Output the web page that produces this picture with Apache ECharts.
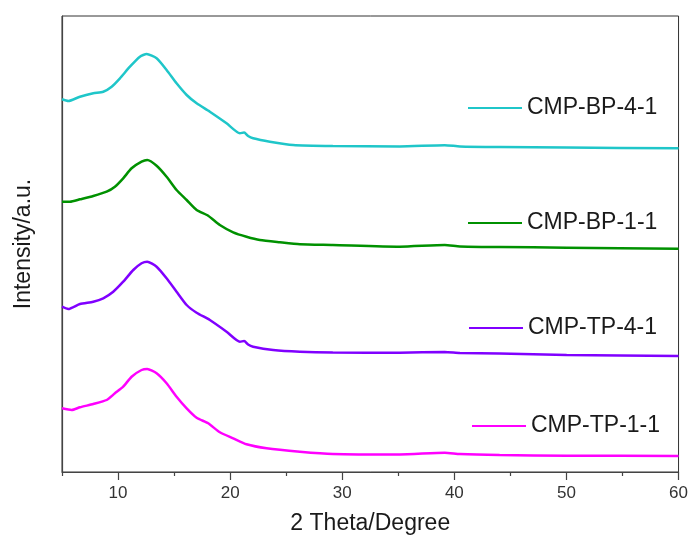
<!DOCTYPE html>
<html>
<head>
<meta charset="utf-8">
<script src="https://cdn.jsdelivr.net/npm/echarts@6/dist/echarts.min.js"></script>
<style>html,body{margin:0;padding:0;background:#fff}#c{width:691px;height:541px}</style>
</head>
<body>
<div id="c"></div>
<script>
var seriesNames = ['CMP-BP-4-1', 'CMP-BP-1-1', 'CMP-TP-4-1', 'CMP-TP-1-1'];
var seriesColors = ['#1fc6c9', '#009100', '#8000ff', '#ff00ff'];
var majorTicks = [10, 20, 30, 40, 50, 60];
var minorTicks = [5, 15, 25, 35, 45, 55];

var bp41 = [[5,372.7],[5.56,371],[6.6,375.3],[7.79,378.7],[8.68,380.3],[9.43,385.3],[10.17,393.7],[11.06,405.3],[11.95,415.3],[12.55,418],[13.44,413.7],[14.33,402],[15.22,388.7],[16.12,377],[17.01,368.7],[18.19,360.3],[19.68,348.7],[20.87,338.7],[21.25,339.5],[21.6,336],[22.05,333.7],[23.54,330.3],[25.62,327],[29.16,326],[35.13,325.5],[39.14,326.8],[40.5,325.6],[44.04,325],[50.02,324.5],[60,323.7]];
var bp11 = [[5,270.3],[5.71,270.3],[6.6,272.7],[7.79,276],[8.98,280.3],[9.72,285.3],[10.46,293.7],[11.21,303.7],[12.1,310.3],[12.6,312],[13.44,306.3],[14.33,295.3],[15.22,282],[16.12,272],[17.01,262],[18.04,256.3],[19.08,247],[20.27,239.7],[21.46,235.3],[22.65,232],[24.43,229.7],[26.22,227.7],[29.16,227],[35.13,225.3],[39.14,227],[40.5,225.6],[44.04,225],[50.02,224.3],[60,223.3]];
var tp41 = [[5,165.3],[5.56,163],[6.6,168],[7.79,170.3],[8.68,173.7],[9.57,180.3],[10.46,190.3],[11.36,202],[12.1,208.7],[12.6,210.3],[13.44,205.3],[14.33,193.7],[15.22,180.3],[16.12,167],[17.01,159.3],[18.19,152],[19.68,140.3],[20.87,130.3],[21.25,131],[21.6,127.5],[22.05,125.3],[23.84,122],[26.22,120.3],[29.16,119.5],[35.13,119.3],[39.14,120],[40.5,119],[44.04,118.5],[50.02,117],[60,116]];
var tp11 = [[5,63.7],[5.86,62],[6.6,64.7],[7.79,68],[8.98,72],[9.72,78.7],[10.46,85.3],[11.21,95.3],[12.1,102],[12.6,103],[13.44,98.7],[14.33,88.7],[15.22,75.3],[16.12,63.7],[17.01,54.3],[18.04,48.7],[19.08,39.7],[20.27,33.7],[21.46,27.7],[23.25,23.7],[26.22,20.3],[29.16,18],[35.13,17.5],[39.14,19.3],[40.5,18],[44.04,17],[50.02,16.3],[60,16]];
var allData = [bp41, bp11, tp41, tp11];

var legendTops = [96, 211, 316, 414];
var legendLefts = [468, 468, 469, 472];

var FONT = '"Liberation Sans", Arial, sans-serif';
var chart = echarts.init(document.getElementById('c'), null, {renderer: 'canvas'});

var series = allData.map(function (d, i) {
  return {
    name: seriesNames[i],
    type: 'line',
    data: d,
    xAxisIndex: 0,
    yAxisIndex: 0,
    symbol: 'none',
    smooth: 0.2,
    color: seriesColors[i],
    lineStyle: {width: 2.5, color: seriesColors[i]},
    animation: false
  };
});

var legends = seriesNames.map(function (n, i) {
  return {
    data: [n],
    left: legendLefts[i],
    top: legendTops[i],
    padding: 0,
    icon: 'rect',
    itemWidth: 54,
    itemHeight: 2,
    textStyle: {fontFamily: FONT, fontSize: 23, color: '#1a1a1a', lineHeight: 24},
    selectedMode: false
  };
});

chart.setOption({
  animation: false,
  backgroundColor: '#fff',
  grid: {left: 62, right: 12, top: 16, bottom: 69, show: true, borderColor: '#333', borderWidth: 1},
  legend: legends,
  xAxis: [{
    type: 'value', min: 5, max: 60,
    name: '2 Theta/Degree', nameLocation: 'middle', nameGap: 40,
    nameTextStyle: {fontFamily: FONT, fontSize: 23, color: '#1a1a1a'},
    axisLine: {show: true, lineStyle: {color: '#444', width: 1.2}},
    axisTick: {show: true, inside: false, length: 8, customValues: majorTicks, lineStyle: {color: '#444', width: 1.2}},
    axisLabel: {show: true, customValues: majorTicks, margin: 13, fontFamily: FONT, fontSize: 17, color: '#333'},
    splitLine: {show: false}
  }, {
    type: 'value', min: 5, max: 60, position: 'bottom', gridIndex: 0,
    axisLine: {show: false},
    axisTick: {show: true, inside: false, length: 4, customValues: minorTicks, lineStyle: {color: '#444', width: 1.2}},
    axisLabel: {show: false},
    splitLine: {show: false}
  }],
  yAxis: [{
    type: 'value', min: 0, max: 456,
    name: 'Intensity/a.u.', nameLocation: 'middle', nameGap: 27,
    nameTextStyle: {fontFamily: FONT, fontSize: 23, color: '#1a1a1a'},
    axisLine: {show: true, lineStyle: {color: '#444', width: 1.2}},
    axisTick: {show: false},
    axisLabel: {show: false},
    splitLine: {show: false}
  }],
  series: series
});
</script>
</body>
</html>
